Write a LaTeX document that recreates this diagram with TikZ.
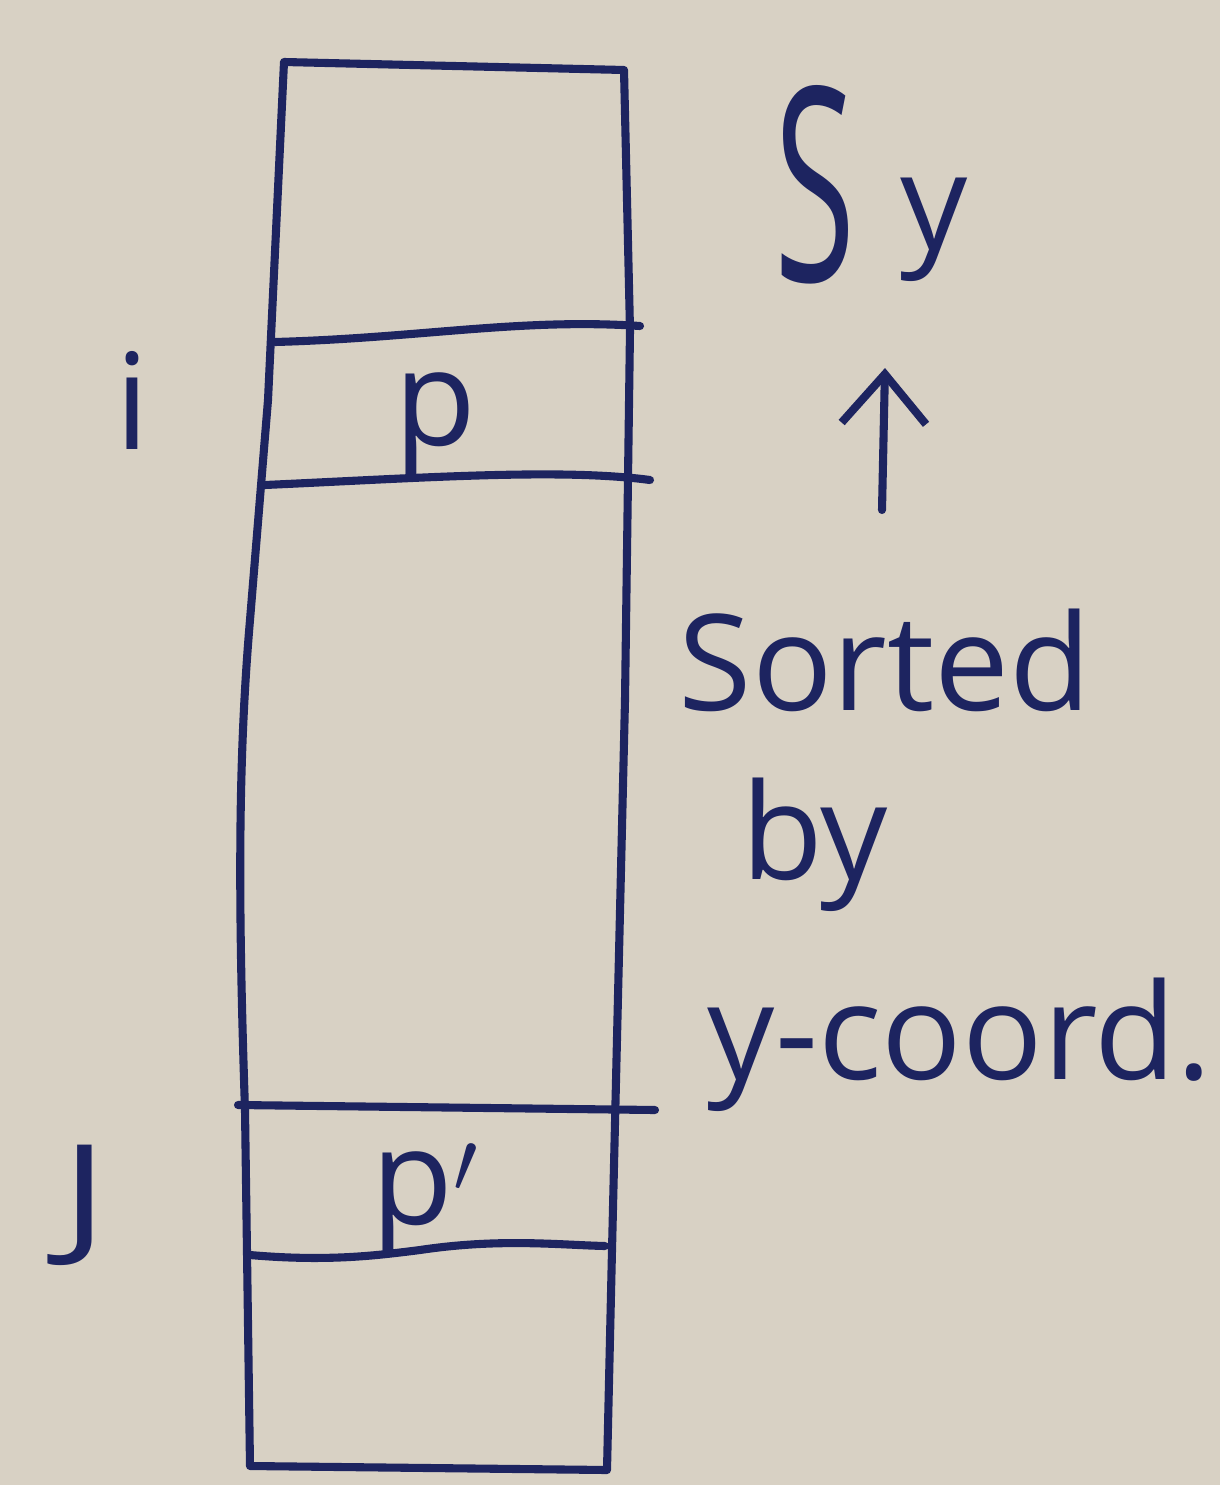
\documentclass[tikz,border=0pt]{standalone}
\usepackage{fontspec}
\setmainfont{Open Sans}
\usetikzlibrary{arrows.meta}
\definecolor{paper}{HTML}{D8D1C4}
\definecolor{ink}{HTML}{1D2460}
\begin{document}
\begin{tikzpicture}[x=0.01cm,y=-0.01cm,
  pen/.style={draw=ink,line width=2.3pt,line cap=round,line join=round},
  hand/.style={text=ink,inner sep=0pt,font=\fontsize{38}{42}\selectfont},
  big/.style={text=ink,inner sep=0pt,font=\fontsize{70}{76}\selectfont}]
\fill[paper] (0,0) rectangle (1220,1485);
\useasboundingbox (0,0) rectangle (1220,1485);

% the array column
\draw[pen] (284,62) -- (624,70) -- (630,330) -- (625,700) -- (612,1250)
  -- (607,1470) -- (250,1466) -- (245,1110)
  .. controls (238,900) and (238,760) .. (250,620) -- (268,400) -- cycle;

% cell boundaries
\draw[pen] (275,342) .. controls (420,338) and (520,318) .. (640,326);
\draw[pen] (265,485) .. controls (420,478) and (560,468) .. (650,480);
\draw[pen] (238,1105) -- (655,1110);
\draw[pen] (250,1255) .. controls (330,1262) and (380,1255) .. (420,1250)
  .. controls (500,1238) and (560,1245) .. (605,1246);

% cell contents and row indices
\node[hand] (p) at (435,425) {p};
\node[hand] (pp) at (425,1200) {p$'$};
\node[hand] (i) at (132,400) {i};
\node[hand,xscale=1.3] (J) at (85,1205) {J};

% array name and caption
\node[big,xscale=0.6,yscale=1.1] (S) at (815,185) {S};
\node[hand,anchor=west] (sy) at (900,230) {y};
\node[hand] (sorted) at (885,660) {Sorted};
\node[hand] (by) at (815,845) {by};
\node[hand] (coord) at (960,1045) {y-coord.};

% arrow from the caption up to the array name
\coordinate (tail) at (882,510);
\coordinate (head) at (885,368);
\draw[pen,-{Straight Barb[length=14pt,width=24pt]}] (tail) -- (head);
\end{tikzpicture}
\end{document}
